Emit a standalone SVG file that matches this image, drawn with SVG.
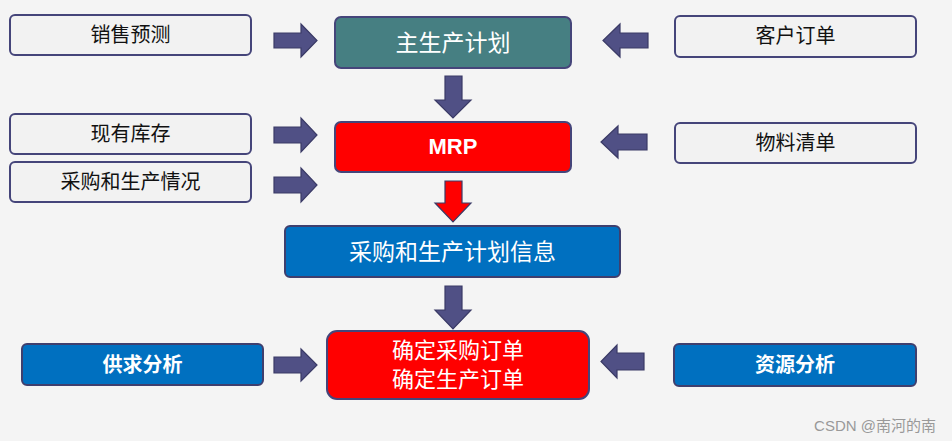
<svg xmlns="http://www.w3.org/2000/svg" width="952" height="441" viewBox="0 0 952 441">
<style>
.bg{fill:#F4F4F4}
.box{fill:#F2F2F2;stroke:#45457A;stroke-width:2}
.blue{fill:#0070C0;stroke:#3F3F6E;stroke-width:2}
.red{fill:#FF0000;stroke:#45457A;stroke-width:2}
.teal{fill:#467F82;stroke:#45457A;stroke-width:2}
.arr{fill:#505085;stroke:#3A3A66;stroke-width:1.2}
.rarr{fill:#FF0000;stroke:#3A3A66;stroke-width:1.2}
text{font-family:"Noto Sans CJK SC","Microsoft YaHei",sans-serif;text-anchor:middle}
.dk{fill:#111;font-size:20px}
.wt{fill:#fff;font-size:23px}
.wt2{fill:#fff;font-size:22px}
.wb{fill:#fff;font-size:20px;font-weight:bold}
.wm{fill:#999;font-size:15px;font-family:"Liberation Sans","Noto Sans CJK SC",sans-serif;text-anchor:end}
</style>
<rect class="bg" width="952" height="441"/>
<g id="connectors">
<polygon class="arr" points="274,33 301,33 301,24 317,40.5 301,57 301,48 274,48"/>
<polygon class="arr" points="274,127 301,127 301,118 317,135 301,152 301,143 274,143"/>
<polygon class="arr" points="274,177 301,177 301,168 317,185 301,202 301,193 274,193"/>
<polygon class="arr" points="274,357 301,357 301,349 317,365 301,381 301,373 274,373"/>
<polygon class="arr" points="648,33 620,33 620,24 603,40.5 620,57 620,48 648,48"/>
<polygon class="arr" points="647,134 618,134 618,126 601,142 618,158 618,150 647,150"/>
<polygon class="arr" points="644,353 617,353 617,345 601,361.5 617,378 617,370 644,370"/>
<polygon class="arr" points="445,76 462,76 462,100 471,100 453,118 435,100 445,100"/>
<polygon class="rarr" points="445,181 462,181 462,203 471,203 453,222 435,203 445,203"/>
<polygon class="arr" points="445,286 462,286 462,310 471,310 453,329 435,310 445,310"/>
</g>
<g id="n-sales"><rect class="box" x="10" y="15" width="241" height="40" rx="5"/><text class="dk" x="130.5" y="42">销售预测</text></g>
<g id="n-stock"><rect class="box" x="10" y="114" width="241" height="40" rx="5"/><text class="dk" x="130.5" y="141">现有库存</text></g>
<g id="n-status"><rect class="box" x="10" y="162" width="241" height="40" rx="5"/><text class="dk" x="130.5" y="189">采购和生产情况</text></g>
<g id="n-customer"><rect class="box" x="675" y="16" width="241" height="41" rx="5"/><text class="dk" x="795.5" y="43">客户订单</text></g>
<g id="n-bom"><rect class="box" x="675" y="123" width="241" height="40" rx="5"/><text class="dk" x="795.5" y="150">物料清单</text></g>
<g id="n-mps"><rect class="teal" x="335" y="17" width="236" height="51" rx="6"/><text class="wt" x="453" y="51">主生产计划</text></g>
<g id="n-mrp"><rect class="red" x="335" y="122" width="236" height="50" rx="6"/><text class="wb" x="453" y="154" style="font-family:'Liberation Sans','Noto Sans CJK SC',sans-serif;font-size:22px">MRP</text></g>
<g id="n-info"><rect class="blue" x="285" y="226" width="335" height="51" rx="5"/><text class="wt" x="452.5" y="260">采购和生产计划信息</text></g>
<g id="n-orders"><rect class="red" x="327" y="331" width="262" height="68" rx="10"/><text class="wt2" x="458" y="358">确定采购订单</text><text class="wt2" x="458" y="387">确定生产订单</text></g>
<g id="n-supply"><rect class="blue" x="22" y="344" width="241" height="41" rx="5"/><text class="wb" x="142.5" y="372">供求分析</text></g>
<g id="n-resource"><rect class="blue" x="674" y="344" width="242" height="42" rx="5"/><text class="wb" x="795" y="372">资源分析</text></g>
<text class="wm" x="936" y="431">CSDN @南河的南</text>
</svg>
